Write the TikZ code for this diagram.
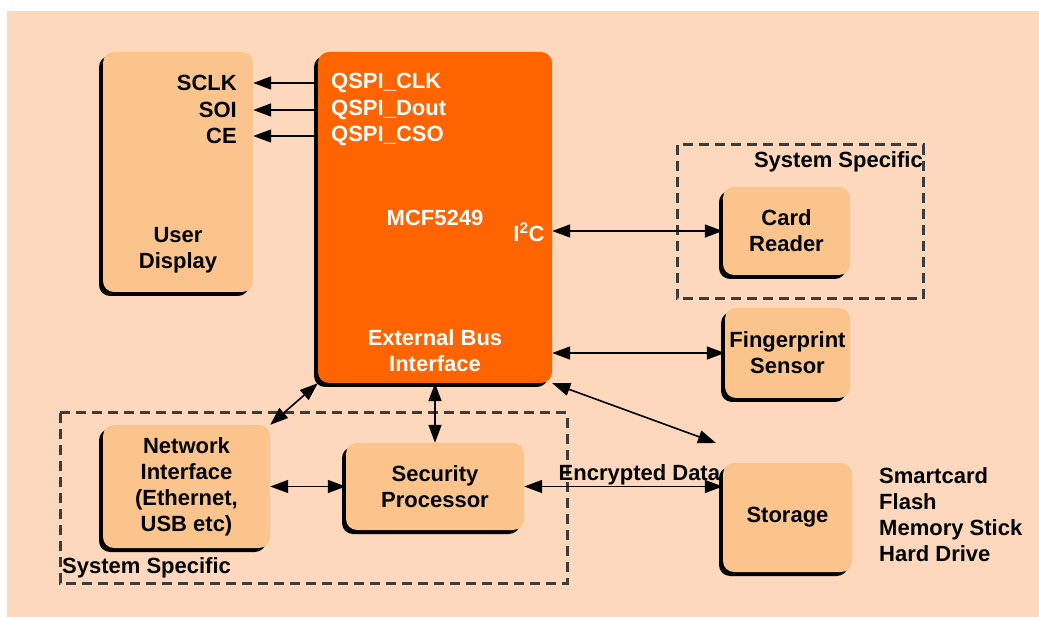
\documentclass[tikz,border=0pt]{standalone}
\usepackage{fontspec}
\setmainfont{Liberation Sans}
\usetikzlibrary{arrows.meta,shadows}
\definecolor{bgpeach}{RGB}{253,216,188}
\definecolor{boxpeach}{RGB}{251,196,140}
\definecolor{cpuorange}{RGB}{255,100,0}
\definecolor{dashgray}{RGB}{60,60,60}
\tikzstyle{blk}=[rectangle,rounded corners=11pt,fill=boxpeach,inner sep=0pt,align=center,drop shadow={shadow xshift=-4pt,shadow yshift=-4pt,fill=black,opacity=1}]
\tikzstyle{cpu}=[blk,fill=cpuorange]
\tikzstyle{wlbl}=[white,inner sep=0pt]
\tikzstyle{dlink}=[<->,>={Triangle[length=18pt,width=13pt]},line width=1.6pt]
\tikzstyle{sysbox}=[dashgray,line width=3pt,dash pattern=on 10pt off 6pt]

\begin{document}
\begin{tikzpicture}[x=1pt,y=-1pt,font=\fontsize{22}{26}\selectfont\bfseries]
\useasboundingbox (0,0) rectangle (1039,617);
\fill[white] (0,0) rectangle (1039,617);
\fill[bgpeach] (7,11) rectangle (1039,617);
% groups
\draw[sysbox] (677,145) rectangle (923,299);
\draw[sysbox] (60,413) rectangle (567,583);
\node[anchor=east,inner sep=0pt] (sysa) at (923,162) {System Specific};
\node[anchor=west,inner sep=0pt] (sysb) at (62,568) {System Specific};
% blocks
\node[blk,minimum width=150pt,minimum height=240pt] (disp) at (178,172) {};
\node[cpu,minimum width=234pt,minimum height=331pt] (mcf) at (435,217.5) {};
\node[blk,minimum width=127pt,minimum height=88pt] (card) at (786.5,231) {Card\\Reader};
\node[blk,minimum width=125pt,minimum height=90pt] (finger) at (787.5,353) {Fingerprint\\Sensor};
\node[blk,minimum width=167pt,minimum height=123pt] (net) at (186.5,486.5) {Network\\Interface\\(Ethernet,\\USB etc)};
\node[blk,minimum width=178pt,minimum height=87pt] (sec) at (435,486.5) {Security\\Processor};
\node[blk,minimum width=129pt,minimum height=109pt] (stor) at (787.5,517.5) {Storage};
% texts inside the big boxes
\node[inner sep=0pt,align=center] (dispname) at (178,250) {User\\Display};
\node[anchor=east,inner sep=0pt] (sclk) at (237,83) {SCLK};
\node[anchor=east,inner sep=0pt] (soi) at (237,110) {SOI};
\node[anchor=east,inner sep=0pt] (ce) at (237,136) {CE};
\node[wlbl,anchor=west] (qclk) at (331,83) {QSPI\_CLK};
\node[wlbl,anchor=west] (qdout) at (331,110) {QSPI\_Dout};
\node[wlbl,anchor=west] (qcso) at (331,136) {QSPI\_CSO};
\node[wlbl] (mcfname) at (435,218) {MCF5249};
\node[wlbl] (i2c) at (529,232) {I\textsuperscript{2}C};
\node[wlbl,align=center] (ebi) at (435,351) {External Bus\\Interface};
\node[anchor=west,inner sep=0pt,align=left] (media) at (879,515) {Smartcard\\Flash\\Memory Stick\\Hard Drive};
\coordinate (stortip) at (716,443);
% connectors
\draw[dlink,<-] (disp.east |- sclk) -- (mcf.west |- sclk);
\draw[dlink,<-] (disp.east |- soi) -- (mcf.west |- soi);
\draw[dlink,<-] (disp.east |- ce) -- (mcf.west |- ce);
\draw[dlink] (card.west -| mcf.east) -- (card.west);
\draw[dlink] (finger.west -| mcf.east) -- (finger.west);
\draw[dlink] (mcf.south east) -- (stortip);
\draw[dlink] (mcf.south west) -- (net.north east);
\draw[dlink] (mcf.south) -- (sec.north);
\draw[dlink] (net.east) -- (net.east -| sec.west);
\draw[dlink] (sec.east) -- node[pos=0.58,above,inner sep=1pt] {Encrypted Data} (sec.east -| stor.west);
\end{tikzpicture}
\end{document}
